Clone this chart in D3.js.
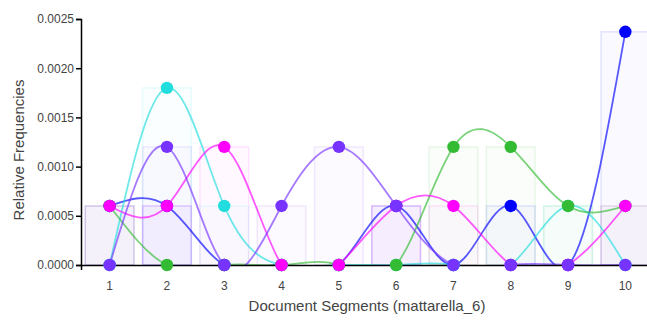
<!DOCTYPE html>
<html>
<head>
<meta charset="utf-8">
<script src="https://cdn.jsdelivr.net/npm/d3@7"></script>
<style>
  html, body { margin: 0; padding: 0; background: #fff; }
  svg { display: block; }
  .axis text { font-family: "Liberation Sans", Arial, sans-serif; font-size: 12px; fill: #444; }
  .axis path, .axis line { stroke: #000; stroke-width: 1.5px; }
  .title { font-family: "Liberation Sans", Arial, sans-serif; font-size: 15px; fill: #444; }
</style>
</head>
<body>
<div id="chart"></div>
<script>
const segments = [1, 2, 3, 4, 5, 6, 7, 8, 9, 10];
const yTicks = [0, 0.0005, 0.0010, 0.0015, 0.0020, 0.0025];

const seriesNames = ["blue", "cyan", "green", "magenta", "purple"];
const seriesColors = ["#0000ff", "#22dddd", "#33bb33", "#ff00ff", "#7733ff"];
const blueValues    = [0.0006, 0.0006, 0, 0, 0, 0.0006, 0, 0.0006, 0, 0.00237];
const cyanValues    = [0, 0.0018, 0.0006, 0, 0, 0, 0, 0, 0.0006, 0];
const greenValues   = [0.0006, 0, 0, 0, 0, 0, 0.0012, 0.0012, 0.0006, 0.0006];
const magentaValues = [0.0006, 0.0006, 0.0012, 0, 0, 0.0006, 0.0006, 0, 0, 0.0006];
const purpleValues  = [0, 0.0012, 0, 0.0006, 0.0012, 0.0006, 0, 0, 0, 0];
const seriesValues = [blueValues, cyanValues, greenValues, magentaValues, purpleValues];

const W = 647, H = 322;
const margin = { left: 81, right: -7, top: 19, bottom: 57 };

const svg = d3.select("#chart").append("svg").attr("width", W).attr("height", H);

const x = d3.scaleBand().domain(segments).range([margin.left, W - margin.right]).paddingInner(0.15).paddingOuter(0.075);
const y = d3.scaleLinear().domain([0, 0.0025]).range([H - margin.bottom, margin.top]);
const cx = d => x(d) + x.bandwidth() / 2;

svg.append("defs").append("clipPath").attr("id", "plotclip")
  .append("rect").attr("x", margin.left).attr("y", 0)
  .attr("width", W - margin.left).attr("height", y(0));

const series = seriesNames.map((n, i) => ({
  name: n, color: seriesColors[i],
  points: segments.map((s, j) => ({ s, v: seriesValues[i][j] }))
}));

// bars
const barG = svg.append("g");
series.forEach(sr => {
  barG.selectAll(null).data(sr.points.filter(p => p.v > 0)).enter().append("rect")
    .attr("x", p => x(p.s))
    .attr("width", x.bandwidth())
    .attr("y", p => y(p.v))
    .attr("height", p => y(0) - y(p.v))
    .attr("fill", sr.color).attr("fill-opacity", 0.025)
    .attr("stroke", sr.color).attr("stroke-opacity", 0.1).attr("stroke-width", 1.5);
});

// lines (clipped at the baseline)
const line = d3.line().x(p => cx(p.s)).y(p => y(p.v)).curve(d3.curveNatural);
const lineG = svg.append("g").attr("clip-path", "url(#plotclip)");
series.forEach(sr => {
  lineG.append("path").datum(sr.points)
    .attr("d", line).attr("fill", "none")
    .attr("stroke", sr.color).attr("stroke-width", 1.8).attr("stroke-opacity", 0.65);
});

// axes
svg.append("g").attr("class", "axis")
  .attr("transform", `translate(0,${y(0)})`)
  .call(d3.axisBottom(x).tickSizeOuter(0).tickSize(5).tickPadding(11));
svg.append("g").attr("class", "axis")
  .attr("transform", `translate(${margin.left},0)`)
  .call(d3.axisLeft(y).tickValues(yTicks).tickFormat(d3.format(".4f")).tickSizeOuter(0).tickSize(5).tickPadding(2));

// dots
series.forEach(sr => {
  svg.append("g").selectAll("circle").data(sr.points).enter().append("circle")
    .attr("cx", p => cx(p.s)).attr("cy", p => y(p.v)).attr("r", 6.2)
    .attr("fill", sr.color);
});

// titles
svg.append("text").attr("class", "title")
  .attr("x", 367).attr("y", 311).attr("text-anchor", "middle")
  .text("Document Segments (mattarella_6)");
svg.append("text").attr("class", "title")
  .attr("transform", `translate(24,${(y(0) + y(0.0025)) / 2 + 8}) rotate(-90)`)
  .attr("text-anchor", "middle")
  .text("Relative Frequencies");
</script>
</body>
</html>
